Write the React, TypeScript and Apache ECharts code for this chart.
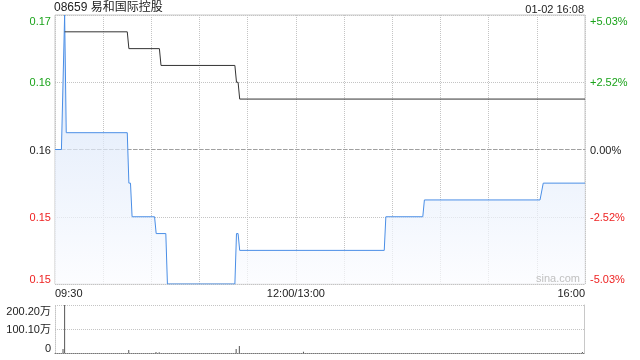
import React, { useEffect, useRef } from "react";
import * as echarts from "echarts";

const title = "08659 易和国际控股";
const stamp = "01-02 16:08";
const prevClose = 0.159;
const priceMin = 0.151;
const priceMax = 0.167;
const priceStep = 0.004;

// minute index from 09:30 (0) to 16:00 (330), lunch break merged at 150
const timeLabels: Record<number, string> = { 0: "09:30", 150: "12:00/13:00", 330: "16:00" };
const sessionStart = 0;
const sessionEnd = 330;

const priceMinutes = [0, 4, 6, 7, 45, 46, 47, 48, 62, 63, 69, 70, 112, 113, 114, 115, 205, 206, 229, 230, 302, 304, 330];
const priceValues = [0.159, 0.159, 0.167, 0.16, 0.16, 0.157, 0.157, 0.155, 0.155, 0.154, 0.154, 0.151, 0.151, 0.154, 0.154, 0.153, 0.153, 0.155, 0.155, 0.156, 0.156, 0.157, 0.157];

const avgMinutes = [6, 45, 46, 65, 66, 112, 113, 114, 115, 330];
const avgValues = [0.166, 0.166, 0.165, 0.165, 0.164, 0.164, 0.163, 0.163, 0.162, 0.162];

const volMinutes = [5, 6, 46, 63, 65, 113, 115, 155, 329];
const volValues = [167000, 2002000, 125000, 40000, 30000, 167000, 292000, 50000, 40000];
const volMax = 2002000;

const FONT = 'Arial, "Liberation Sans", "Noto Sans CJK SC", sans-serif';

export default function App() {
  const ref = useRef<HTMLDivElement>(null);
  useEffect(() => {
    if (!ref.current) return;
    const chart = echarts.init(ref.current, null, { renderer: "svg" });
    const pricePts = priceMinutes.map((m, i) => [m, priceValues[i]]);
    const avgPts = avgMinutes.map((m, i) => [m, avgValues[i]]);
    const volPts = volMinutes.map((m, i) => [m, volValues[i]]);
    const refPts = [[sessionStart, prevClose], [sessionEnd, prevClose]];
    const priceColor = (v: number) =>
      Math.abs(v - prevClose) < 1e-9 ? "#222" : v > prevClose ? "#1aa31a" : "#ee2222";
    chart.setOption({
      animation: false,
      textStyle: { fontFamily: FONT },
      title: [
        { text: title, left: 54, top: 1, padding: 0, textStyle: { fontSize: 12, fontWeight: "normal", color: "#222", fontFamily: FONT } },
        { text: stamp, right: 56, top: 3, padding: 0, textStyle: { fontSize: 11, fontWeight: "normal", color: "#222", fontFamily: FONT } },
      ],
      grid: [
        { left: 55, right: 55, top: 15, height: 269, show: true, borderColor: "#c8c8c8", borderWidth: 1 },
        { left: 55, right: 56, top: 305, height: 48, show: false },
      ],
      xAxis: [
        {
          type: "value", gridIndex: 0, min: sessionStart, max: sessionEnd, interval: 30,
          axisLine: { show: false }, axisTick: { show: false },
          splitLine: { show: true, lineStyle: { type: "dotted", color: "#c4c4c4" } },
          axisLabel: {
            margin: 3, fontSize: 11, color: "#222", fontFamily: FONT,
            formatter: (v: number) => timeLabels[v] ?? "",
            alignMinLabel: "left", alignMaxLabel: "right",
          },
        },
        {
          type: "value", gridIndex: 1, min: sessionStart, max: sessionEnd, interval: 30,
          axisLine: { show: true, lineStyle: { type: "dotted", color: "#777" } },
          axisTick: { show: false }, axisLabel: { show: false }, splitLine: { show: false },
        },
      ],
      yAxis: [
        {
          type: "value", gridIndex: 0, min: priceMin, max: priceMax, interval: priceStep,
          axisLine: { show: false }, axisTick: { show: false },
          splitLine: { show: true, lineStyle: { type: "dotted", color: "#c4c4c4" } },
          axisLabel: {
            margin: 4, fontSize: 11, fontFamily: FONT,
            formatter: (v: number) => v.toFixed(2),
            color: (v: any) => priceColor(Number(v)),
            verticalAlignMinLabel: "bottom", verticalAlignMaxLabel: "top",
          },
        },
        {
          type: "value", gridIndex: 0, position: "right", min: priceMin, max: priceMax, interval: priceStep,
          axisLine: { show: false }, axisTick: { show: false }, splitLine: { show: false },
          axisLabel: {
            margin: 5, fontSize: 11, fontFamily: FONT,
            formatter: (v: number) => {
              const p = ((v - prevClose) / prevClose) * 100;
              const s = Math.abs(p).toFixed(2) + "%";
              return Math.abs(p) < 1e-6 ? "0.00%" : (p > 0 ? "+" : "-") + s;
            },
            color: (v: any) => priceColor(Number(v)),
            verticalAlignMinLabel: "bottom", verticalAlignMaxLabel: "top",
          },
        },
        {
          type: "value", gridIndex: 1, min: 0, max: volMax, interval: volMax / 2,
          axisLine: { show: true, lineStyle: { type: "dotted", color: "#c4c4c4" } },
          axisTick: { show: false },
          splitLine: { show: true, lineStyle: { type: "dotted", color: "#c4c4c4" } },
          axisLabel: {
            margin: 4, fontSize: 11, color: "#222", fontFamily: FONT,
            formatter: (v: number) => (v === 0 ? "0" : (v / 10000).toFixed(2) + "万"),
            verticalAlignMinLabel: "bottom", verticalAlignMaxLabel: "top",
          },
        },
        {
          type: "value", gridIndex: 1, position: "right", min: 0, max: volMax,
          axisLine: { show: true, lineStyle: { color: "#c8c8c8" } },
          axisTick: { show: false }, axisLabel: { show: false }, splitLine: { show: false },
        },
      ],
      series: [
        {
          type: "line", xAxisIndex: 0, yAxisIndex: 0, data: refPts, symbol: "none", silent: true,
          lineStyle: { type: [4, 2], color: "#a0a0a0", width: 1 }, z: 2,
        },
        {
          type: "line", xAxisIndex: 0, yAxisIndex: 0, data: pricePts, symbol: "none",
          lineStyle: { color: "#4a8ee6", width: 1 },
          areaStyle: {
            origin: "start",
            color: new echarts.graphic.LinearGradient(0, 0, 0, 1, [
              { offset: 0, color: "#c9dbf7" },
              { offset: 1, color: "#fbfcff" },
            ]),
          },
          z: 3,
        },
        {
          type: "line", xAxisIndex: 0, yAxisIndex: 0, data: avgPts, symbol: "none",
          lineStyle: { color: "#333", width: 1 }, z: 4,
        },
        {
          type: "bar", xAxisIndex: 1, yAxisIndex: 2, data: volPts, barWidth: 1,
          itemStyle: { color: "#555" },
        },
      ],
      graphic: [
        {
          type: "text", right: 60, top: 272, z: 100,
          style: { text: "sina.com", fontSize: 11, fill: "#c0c0c0", fontFamily: FONT },
        },
      ],
    });
    return () => chart.dispose();
  }, []);
  return <div ref={ref} style={{ width: 640, height: 360, position: "fixed", left: 0, top: 0 }} />;
}
